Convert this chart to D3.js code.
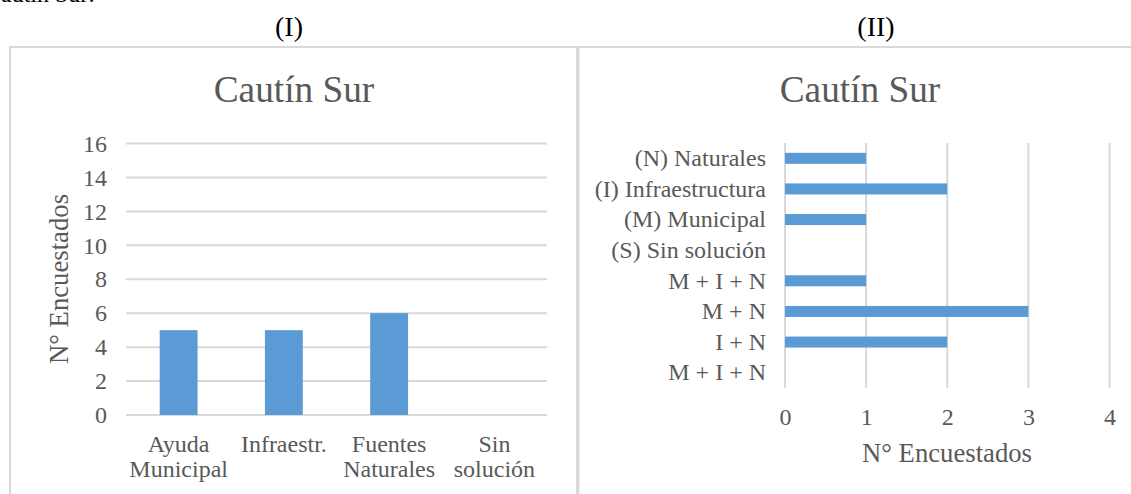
<!DOCTYPE html>
<html>
<head>
<meta charset="utf-8">
<script src="https://cdn.jsdelivr.net/npm/d3@7"></script>
<style>
  html, body { margin: 0; padding: 0; background: #fff; }
  svg { display: block; }
</style>
</head>
<body>
<svg id="chart" width="1131" height="494"></svg>
<script>
// ---- Data ----
const chartTitle = "Cautín Sur";
const axisTitle = "N° Encuestados";

// Panel (I)
const catsI = ["Ayuda\nMunicipal", "Infraestr.", "Fuentes\nNaturales", "Sin\nsolución"];
const valsI = [5, 5, 6, 0];
const ticksI = [0, 2, 4, 6, 8, 10, 12, 14, 16];

// Panel (II)
const catsII = ["(N) Naturales", "(I) Infraestructura", "(M) Municipal", "(S) Sin solución", "M + I + N", "M + N", "I + N", "M + I + N"];
const valsII = [1, 2, 1, 0, 1, 3, 2, 0];
const ticksII = [0, 1, 2, 3, 4];

const FONT = "'Liberation Serif', Tinos, 'Times New Roman', 'DejaVu Serif', serif";
const svg = d3.select("#chart");
const textColor = "#595959";
const gridColor = "#d9d9d9";
const barColor = "#5b9bd5";

// top cut-off document text
svg.append("text").attr("x", 95).attr("y", 2).attr("text-anchor", "end")
  .attr("font-size", 24).attr("fill", "#000").text("Cautín Sur:");

// panel borders
svg.append("rect").attr("x", 10).attr("y", 47).attr("width", 567).attr("height", 500)
  .attr("fill", "none").attr("stroke", gridColor).attr("stroke-width", 2);
svg.append("rect").attr("x", 578.5).attr("y", 47).attr("width", 600).attr("height", 500)
  .attr("fill", "none").attr("stroke", gridColor).attr("stroke-width", 2);

// headers
svg.append("text").attr("x", 289).attr("y", 36).attr("text-anchor", "middle")
  .attr("font-size", 28).attr("fill", "#000").text("(I)");
svg.append("text").attr("x", 876).attr("y", 36).attr("text-anchor", "middle")
  .attr("font-size", 28).attr("fill", "#000").text("(II)");

// titles
svg.append("text").attr("x", 294).attr("y", 102).attr("text-anchor", "middle")
  .attr("font-size", 37.3).attr("fill", textColor).text(chartTitle);
svg.append("text").attr("x", 860).attr("y", 102).attr("text-anchor", "middle")
  .attr("font-size", 37.3).attr("fill", textColor).text(chartTitle);

// ---- Panel I: vertical bars ----
const x1 = d3.scaleBand().domain(d3.range(catsI.length)).range([126, 547])
  .paddingInner(0.64).paddingOuter(0.32);
const y1 = d3.scaleLinear().domain([0, 16]).range([415, 143.5]);

const gI = svg.append("g");
gI.append("g").selectAll("line").data(ticksI).join("line")
  .attr("x1", 126).attr("x2", 547)
  .attr("y1", d => y1(d)).attr("y2", d => y1(d))
  .attr("stroke", gridColor).attr("stroke-width", 2);

const yAxis1 = gI.append("g").attr("transform", "translate(126,0)")
  .call(d3.axisLeft(y1).tickValues(ticksI).tickSize(0).tickPadding(19));
yAxis1.select(".domain").remove();
yAxis1.selectAll("text").attr("font-size", 24).attr("fill", textColor);

gI.append("g").selectAll("rect").data(valsI).join("rect")
  .attr("x", (d, i) => x1(i)).attr("width", x1.bandwidth())
  .attr("y", d => y1(d)).attr("height", d => y1(0) - y1(d))
  .attr("fill", barColor);

const xAxis1 = gI.append("g").attr("transform", "translate(0,415)")
  .call(d3.axisBottom(x1).tickSize(0).tickFormat(""));
xAxis1.select(".domain").remove();
xAxis1.selectAll(".tick").each(function(d) {
  const lines = catsI[d].split("\n");
  const t = d3.select(this).append("text").attr("text-anchor", "middle")
    .attr("font-size", 24).attr("fill", textColor);
  lines.forEach((ln, k) => {
    t.append("tspan").attr("x", 0).attr("y", 37 + k * 25).text(ln);
  });
});

gI.append("text").attr("transform", "translate(68,279) rotate(-90)")
  .attr("text-anchor", "middle").attr("font-size", 26.7).attr("fill", textColor)
  .text(axisTitle);

// ---- Panel II: horizontal bars ----
const x2 = d3.scaleLinear().domain([0, 4]).range([785, 1109.5]);
const y2 = d3.scaleBand().domain(d3.range(catsII.length)).range([143, 388])
  .paddingInner(0.64).paddingOuter(0.32);

const gII = svg.append("g");
gII.append("g").selectAll("line").data(ticksII).join("line")
  .attr("x1", d => x2(d)).attr("x2", d => x2(d))
  .attr("y1", 143).attr("y2", 388)
  .attr("stroke", gridColor).attr("stroke-width", 2);

gII.append("g").selectAll("rect").data(valsII).join("rect")
  .attr("x", x2(0)).attr("width", d => x2(d) - x2(0))
  .attr("y", (d, i) => y2(i)).attr("height", y2.bandwidth())
  .attr("fill", barColor);

const yAxis2 = gII.append("g").attr("transform", "translate(785,0)")
  .call(d3.axisLeft(y2).tickSize(0).tickPadding(19).tickFormat(i => catsII[i]));
yAxis2.select(".domain").remove();
yAxis2.selectAll("text").attr("font-size", 24).attr("fill", textColor);

const xAxis2 = gII.append("g").attr("transform", "translate(0,400)")
  .call(d3.axisBottom(x2).tickValues(ticksII).tickSize(0).tickPadding(8).tickFormat(d3.format("d")));
xAxis2.select(".domain").remove();
xAxis2.selectAll("text").attr("font-size", 24).attr("fill", textColor);

gII.append("text").attr("x", 947).attr("y", 462).attr("text-anchor", "middle")
  .attr("font-size", 26.7).attr("fill", textColor).text(axisTitle);

// apply serif font everywhere (inline style beats the axis' font-family attribute)
svg.selectAll("g").attr("font-family", null);
svg.selectAll("text").style("font-family", FONT);
</script>
</body>
</html>
